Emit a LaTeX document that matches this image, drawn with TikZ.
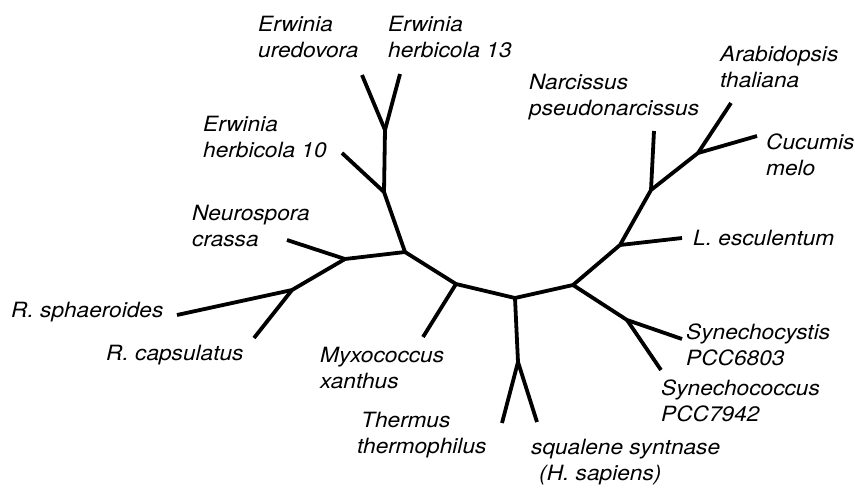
\documentclass[tikz,border=0pt]{standalone}
\usepackage{fontspec}
\setmainfont{TeX Gyre Heros}[FakeStretch=1.08]
\begin{document}
\begin{tikzpicture}[x=1pt,y=-1pt,
  br/.style={line width=3.8pt,line cap=butt,line join=miter},
  lbl/.style={anchor=base west,align=left,inner sep=0pt,font=\fontsize{21}{25.5}\selectfont\itshape}]
\useasboundingbox (0,0) rectangle (855,488);
% internal nodes
\coordinate (A) at (405,252);
\coordinate (N1) at (345,259);
\coordinate (R) at (292,290);
\coordinate (E1) at (384,192);
\coordinate (E2) at (385,130);
\coordinate (M) at (456,284);
\coordinate (C) at (515,298);
\coordinate (S) at (518,362);
\coordinate (B) at (573,285);
\coordinate (Y) at (627,320);
\coordinate (L) at (620,245);
\coordinate (Nj) at (651,190);
\coordinate (AC) at (698,153);
% leaf tips
\coordinate (rsph) at (177,315);
\coordinate (rcap) at (254,338);
\coordinate (neur) at (287,240);
\coordinate (herb10) at (342,153);
\coordinate (ured) at (362,75);
\coordinate (h13) at (400,74);
\coordinate (myxo) at (423,337);
\coordinate (therm) at (502,423);
\coordinate (squal) at (537,422);
\coordinate (cystis) at (682,339);
\coordinate (coccus) at (661,370);
\coordinate (lesc) at (682,238);
\coordinate (nar) at (654,131);
\coordinate (arab) at (731,103);
\coordinate (cuc) at (757,136);
% branches
\draw[br] (rsph) -- (R) -- (N1) -- (A) -- (M) -- (C) -- (B) -- (L) -- (Nj) -- (AC) -- (arab);
\draw[br] (R) -- (rcap);
\draw[br] (N1) -- (neur);
\draw[br] (A) -- (E1) -- (E2) -- (ured);
\draw[br] (E1) -- (herb10);
\draw[br] (E2) -- (h13);
\draw[br] (M) -- (myxo);
\draw[br] (C) -- (S) -- (therm);
\draw[br] (S) -- (squal);
\draw[br] (B) -- (Y) -- (cystis);
\draw[br] (Y) -- (coccus);
\draw[br] (L) -- (lesc);
\draw[br] (Nj) -- (nar);
\draw[br] (AC) -- (cuc);
% labels (base anchor = baseline of the last line)
\node[lbl] (tured) at (258,57) {Erwinia\\uredovora};
\node[lbl] (th13) at (388,57) {Erwinia\\herbicola 13};
\node[lbl] (th10) at (203,157) {Erwinia\\herbicola 10};
\node[lbl] (tneur) at (192,246) {Neurospora\\crassa};
\node[lbl] (trsph) at (11,317) {R. sphaeroides};
\node[lbl] (trcap) at (106,360) {R. capsulatus};
\node[lbl] (tmyxo) at (320,388) {Myxococcus\\xanthus};
\node[lbl] (ttherm) at (357,453) {\hspace*{4pt}Thermus\\thermophilus};
\node[lbl] (tsqual) at (531,480) {squalene syntnase\\\hspace*{8pt}(H. sapiens)};
\node[lbl] (tcystis) at (686,365) {Synechocystis\\PCC6803};
\node[lbl] (tcoccus) at (661,421) {Synechococcus\\PCC7942};
\node[lbl] (tlesc) at (693,245) {L. esculentum};
\node[lbl] (tnar) at (529,115) {Narcissus\\pseudonarcissus};
\node[lbl] (tarab) at (720,87) {Arabidopsis\\thaliana};
\node[lbl] (tcuc) at (766,175) {Cucumis\\melo};
\end{tikzpicture}
\end{document}
